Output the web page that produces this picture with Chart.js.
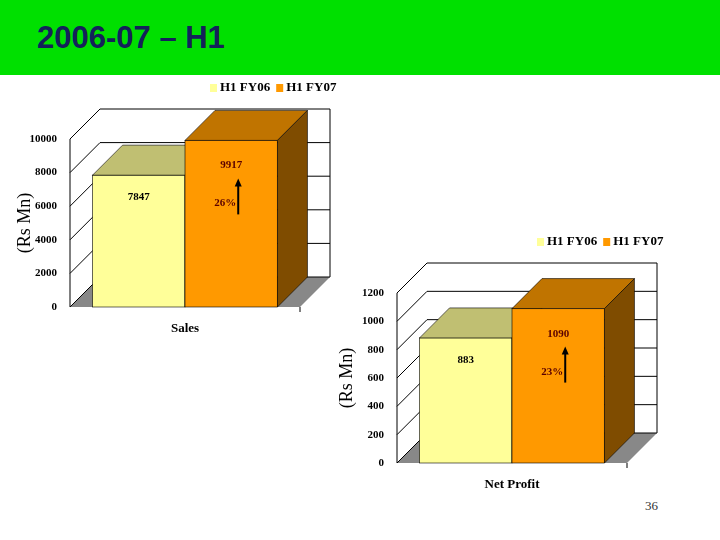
<!DOCTYPE html>
<html><head><meta charset="utf-8">
<script src="https://cdn.jsdelivr.net/npm/chart.js@4"></script>
<style>
body{margin:0;width:720px;height:540px;background:#fff;position:relative;overflow:hidden;font-family:"Liberation Sans",Arial,sans-serif}
#band{position:absolute;left:0;top:0;width:720px;height:75px;background:#00e000}
#title{position:absolute;left:37px;top:20px;font:bold 31px "Liberation Sans",Arial;color:#14215a}
#pg{position:absolute;left:645px;top:498px;font:13px "Liberation Serif",serif;color:#333}
.box{position:absolute}
</style></head><body>
<div id="band"></div><div id="title">2006-07 – H1</div><div id="pg">36</div>
<div class="box" style="left:0;top:78px;width:345px;height:262px"><canvas id="c1"></canvas></div>
<div class="box" style="left:330px;top:232px;width:345px;height:264px"><canvas id="c2"></canvas></div>
<script>
const seriesNames=["H1 FY06","H1 FY07"];
const salesCat=["Sales"];
const salesFY06=[7847];
const salesFY07=[9917];
const salesGrowth="26%";
const salesTicks=[0,2000,4000,6000,8000,10000];
const profitCat=["Net Profit"];
const profitFY06=[883];
const profitFY07=[1090];
const profitGrowth="23%";
const profitTicks=[0,200,400,600,800,1000,1200];

const front=["#ffff99","#ff9900"],topC=["#c0bf72","#c07400"],sideC=["#a0a060","#7f4c00"];
const D=30;
const SERIF='"Liberation Serif","Times New Roman",serif';

function make(id,cats,a,b,ticks,growth,padL,axW,pr){
  const max=ticks[ticks.length-1];
  const plugin={id:'td'+id,
    beforeDatasetsDraw(ch){
      const c=ch.ctx,ar=ch.chartArea,y=ch.scales.y;
      c.save();
      c.fillStyle="#888";c.beginPath();
      c.moveTo(ar.left,ar.bottom);c.lineTo(ar.left+D,ar.bottom-D);c.lineTo(ar.right+D,ar.bottom-D);c.lineTo(ar.right,ar.bottom);c.fill();
      c.strokeStyle="#000";c.lineWidth=1;
      ticks.forEach(t=>{const py=y.getPixelForValue(t);
        c.beginPath();c.moveTo(ar.left,py);c.lineTo(ar.left+D,py-D);c.lineTo(ar.right+D,py-D);c.stroke();});
      c.beginPath();c.moveTo(ar.left,ar.bottom);c.lineTo(ar.left,ar.top);c.stroke();
      c.beginPath();c.moveTo(ar.right+D,y.getPixelForValue(max)-D);c.lineTo(ar.right+D,ar.bottom-D);c.stroke();
      c.beginPath();c.moveTo(ar.right,ar.bottom);c.lineTo(ar.right,ar.bottom+5);c.stroke();
      c.restore();
    },
    afterDatasetsDraw(ch){
      const c=ch.ctx;c.save();
      [0,1].forEach(i=>{const el=ch.getDatasetMeta(i).data[0];
        const l=el.x-el.width/2,r=el.x+el.width/2,t=el.y,bt=el.base;
        c.strokeStyle="#000";c.lineWidth=0.6;
        c.fillStyle=front[i];c.fillRect(l,t,r-l,bt-t);c.strokeRect(l,t,r-l,bt-t);
        c.fillStyle=topC[i];c.beginPath();c.moveTo(l,t);c.lineTo(l+D,t-D);c.lineTo(r+D,t-D);c.lineTo(r,t);c.closePath();c.fill();c.stroke();
        c.fillStyle=sideC[i];c.beginPath();c.moveTo(r,t);c.lineTo(r+D,t-D);c.lineTo(r+D,bt-D);c.lineTo(r,bt);c.closePath();c.fill();c.stroke();
        const v=ch.data.datasets[i].data[0];
        c.fillStyle=i?"#5a0000":"#000";c.font="bold 11px "+SERIF;c.textAlign="center";
        c.fillText(v,el.x,t+i*3+25);
      });
      const el=ch.getDatasetMeta(1).data[0];const ax=el.x+7,ay=el.y+40;
      c.strokeStyle="#000";c.fillStyle="#000";c.lineWidth=2;
      c.beginPath();c.moveTo(ax,ay+34);c.lineTo(ax,ay+4);c.stroke();
      c.beginPath();c.moveTo(ax-3.5,ay+6);c.lineTo(ax,ay-2);c.lineTo(ax+3.5,ay+6);c.fill();
      c.fillStyle="#5a0000";c.font="bold 11px "+SERIF;c.textAlign="right";c.fillText(growth,ax-2,ay+26);
      c.font="bold 13px "+SERIF;c.textAlign="left";c.textBaseline="middle";
      const ar=ch.chartArea;let x=ar.right-90,ly=10;
      seriesNames.forEach((n,i)=>{c.fillStyle=front[i];c.fillRect(x,ly-4,7,8);c.fillStyle="#000";c.fillText(n,x+10,ly);x+=c.measureText(n).width+16;});
      c.restore();
    }};
  return new Chart(document.getElementById(id),{type:'bar',
    data:{labels:cats,datasets:[{label:seriesNames[0],data:a,backgroundColor:'rgba(0,0,0,0)'},{label:seriesNames[1],data:b,backgroundColor:'rgba(0,0,0,0)'}]},
    options:{responsive:true,maintainAspectRatio:false,animation:false,
      layout:{padding:{top:61,right:pr,left:padL,bottom:0}},
      datasets:{bar:{categoryPercentage:0.804,barPercentage:1}},
      plugins:{legend:{display:false},tooltip:{enabled:false}},
      scales:{
        x:{grid:{display:false},border:{display:false},ticks:{color:'#000',font:{family:SERIF,size:13,weight:'bold'},padding:6},
          afterFit(s){s.height=33;}},
        y:{min:0,max:max,afterBuildTicks(s){s.ticks=ticks.map(v=>({value:v}));},
          grid:{display:false},border:{display:false},
          ticks:{color:'#000',font:{family:SERIF,size:11,weight:'bold'},padding:5,callback:v=>String(v)},
          title:{display:true,text:'(Rs Mn)',color:'#000',font:{family:SERIF,size:18},padding:0},
          afterFit(s){s.width=axW;}}
      }},plugins:[plugin]});
}
make('c1',salesCat,salesFY06,salesFY07,salesTicks,salesGrowth,14,56,45);
make('c2',profitCat,profitFY06,profitFY07,profitTicks,profitGrowth,6,61,48);
</script></body></html>
